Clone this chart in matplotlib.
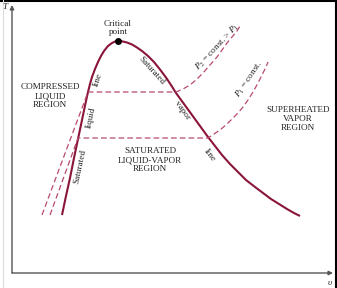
import matplotlib
matplotlib.use("Agg")
import matplotlib.pyplot as plt
from matplotlib.lines import Line2D

plt.rcParams['font.family'] = ['Liberation Serif', 'DejaVu Serif']
plt.rcParams['mathtext.fontset'] = 'stix'

# Saturation dome (specific volume v, temperature T; arbitrary units)
liq_v = [50, 54, 58, 62, 66, 70, 74, 76, 78, 80, 83, 86, 89, 92, 96, 100, 103, 106]
liq_T = [58, 77, 95, 115, 134, 153, 172, 181, 189, 196, 204, 211, 217, 222, 227, 230, 231.5, 232]
vap_v = [106, 110, 115, 120, 125, 130, 136, 142, 148, 154, 159, 164, 172, 180, 188, 196,
         203, 210, 218, 226, 234, 243, 251, 259, 267, 275, 282, 288]
vap_T = [232, 231.7, 230.5, 228.5, 225.5, 222, 217, 211, 203.5, 195.5, 188, 180, 169, 158, 147, 136,
         127, 118, 109, 101, 93, 86, 80, 74, 69, 64, 60, 57]
crit_v, crit_T = 106, 232

# Isobar P2 (higher pressure)
p2_v = [30, 76, 164, 171, 178, 185, 191, 198, 205, 210, 215, 220, 225, 228]
p2_T = [58, 181, 181, 184, 188, 194, 200, 208, 216, 223, 230, 236, 242, 247]
# Isobar P1
p1_v = [38, 66, 196, 202, 208, 215, 221, 226, 231, 236, 241, 246, 251, 254, 256]
p1_T = [58, 135, 135, 139, 143, 149, 155, 160, 166, 173, 181, 190, 200, 206, 211]

W, H = 337, 288
fig = plt.figure(figsize=(W / 100, H / 100), dpi=100)
ax = fig.add_axes([12 / W, 15 / H, 321 / W, 268 / H])
ax.set_xlim(0, 321)
ax.set_ylim(0, 268)
ax.axis('off')

dome_c = '#8a1538'
dash_c = '#b84a6e'
axis_c = '#555555'

ax.plot(liq_v, liq_T, color=dome_c, lw=1.5, solid_capstyle='butt', solid_joinstyle='round')
ax.plot(vap_v, vap_T, color=dome_c, lw=1.5, solid_capstyle='butt', solid_joinstyle='round')
ax.plot(p2_v, p2_T, color=dash_c, lw=0.9, dashes=(4.5, 2.5))
ax.plot(p1_v, p1_T, color=dash_c, lw=0.9, dashes=(4.5, 2.5))
ax.plot([crit_v], [crit_T], 'o', color='black', ms=4, zorder=5)

# axes arrows
ax.annotate('', xy=(0, 1), xytext=(0, 0), xycoords='axes fraction',
            arrowprops=dict(arrowstyle='-|>', color=axis_c, lw=1.0,
                            mutation_scale=6, shrinkA=0, shrinkB=0),
            annotation_clip=False)
ax.annotate('', xy=(1, 0), xytext=(0, 0), xycoords='axes fraction',
            arrowprops=dict(arrowstyle='-|>', color=axis_c, lw=1.0,
                            mutation_scale=6, shrinkA=0, shrinkB=0),
            annotation_clip=False)

fs = 6.6
tc = '#222222'
ax.text(crit_v, 245, 'Critical\npoint', ha='center', va='center', fontsize=fs,
        color=tc, linespacing=1.15)
ax.text(38, 177, 'COMPRESSED\nLIQUID\nREGION', ha='center', va='center',
        fontsize=fs, color=tc, linespacing=1.15)
ax.text(138, 113, 'SATURATED\nLIQUID-VAPOR\nREGION', ha='center', va='center',
        fontsize=fs, color=tc, linespacing=1.15)
ax.text(286, 154, 'SUPERHEATED\nVAPOR\nREGION', ha='center', va='center',
        fontsize=fs, color=tc, linespacing=1.15)

ax.text(68, 107, 'Saturated', rotation=78, ha='center', va='center', fontsize=fs, color=tc)
ax.text(79, 155, 'liquid', rotation=78, ha='center', va='center', fontsize=fs, color=tc)
ax.text(86, 193, 'line', rotation=72, ha='center', va='center', fontsize=fs, color=tc)
ax.text(140, 202, 'Saturated', rotation=-48, ha='center', va='center', fontsize=fs, color=tc)
ax.text(170, 163, 'vapor', rotation=-55, ha='center', va='center', fontsize=fs, color=tc)
ax.text(198, 118, 'line', rotation=-52, ha='center', va='center', fontsize=fs, color=tc)
ax.text(205, 226, r'$P_2$ = const. > $P_1$', rotation=47, ha='center', va='center',
        fontsize=fs, color=tc)
ax.text(237, 193, r'$P_1$ = const.', rotation=56, ha='center', va='center',
        fontsize=fs, color=tc)

fig.text(5 / W, 1 - 7 / H, 'T', ha='center', va='center', fontsize=6.5,
         style='italic', color=tc)
fig.text(330 / W, 1 - 283 / H, 'υ', ha='center', va='center', fontsize=6.5,
         style='italic', color=tc)

# image frame
fig.add_artist(Line2D([0, 1], [1 - 1 / H, 1 - 1 / H], color='black', lw=1.5,
                      transform=fig.transFigure))
fig.add_artist(Line2D([1 - 1.5 / W, 1 - 1.5 / W], [0, 1], color='black', lw=1.5,
                      transform=fig.transFigure))
fig.add_artist(Line2D([3 / W, 3 / W], [0, 1], color='#dddddd', lw=0.8,
                      transform=fig.transFigure))

fig.savefig('out.png', dpi=100)
